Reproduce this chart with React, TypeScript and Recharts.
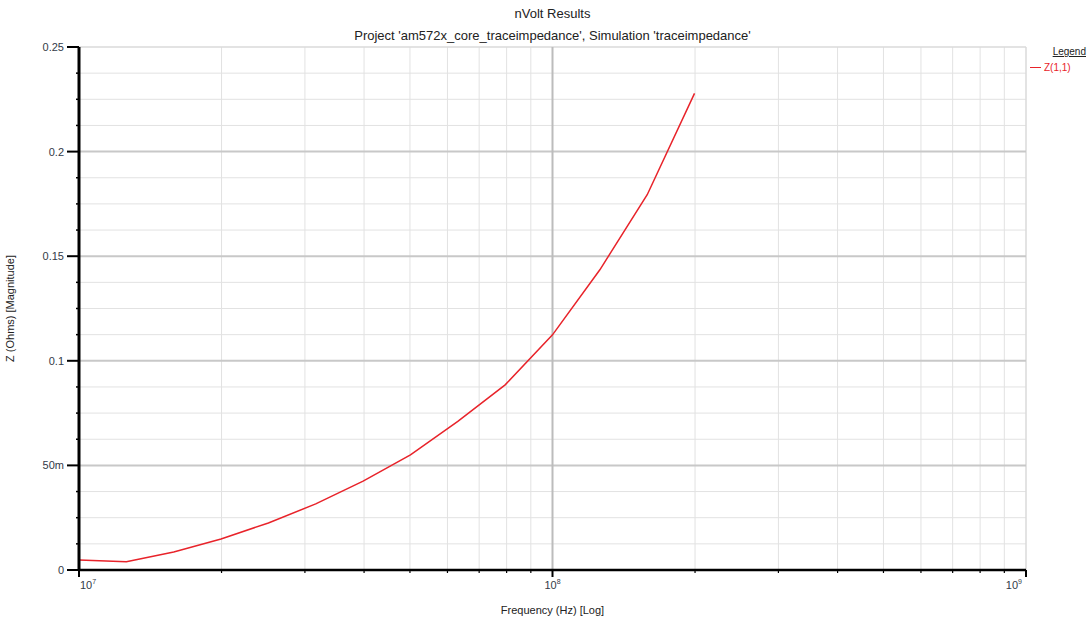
import React from "react";
import { LineChart, Line, XAxis, YAxis, ReferenceLine } from "recharts";

// Z(1,1) magnitude vs frequency, 10 points per decade
const freqs = [1e7, 1.259e7, 1.585e7, 1.995e7, 2.512e7, 3.162e7, 3.981e7, 5.012e7, 6.31e7, 7.943e7, 1e8, 1.259e8, 1.585e8, 1.995e8];
const zMag = [0.0048, 0.004, 0.0086, 0.0148, 0.0225, 0.0316, 0.0425, 0.055, 0.071, 0.0885, 0.1124, 0.1435, 0.1794, 0.2278];

const xMajor = [1e7, 1e8, 1e9];
const xMajorLabels = ["7", "8", "9"];
const xMinor = [2e7, 3e7, 4e7, 5e7, 6e7, 7e7, 8e7, 9e7, 2e8, 3e8, 4e8, 5e8, 6e8, 7e8, 8e8, 9e8];

const yMajor = [0, 0.05, 0.1, 0.15, 0.2, 0.25];
const yMajorLabels = ["0", "50m", "0.1", "0.15", "0.2", "0.25"];
const yMinor = [
  0.0125, 0.025, 0.0375, 0.0625, 0.075, 0.0875, 0.1125, 0.125, 0.1375,
  0.1625, 0.175, 0.1875, 0.2125, 0.225, 0.2375,
];

const data = freqs.map((f, i) => ({ f, z: zMag[i] }));

const FONT = "'Liberation Sans', Arial, sans-serif";
const TICK_COLOR = "#333a48";
const RED = "#e8232a";

function YTick({ x, y, payload }: any) {
  const idx = yMajor.indexOf(payload.value);
  if (idx < 0) {
    return <line x1={x - 3} x2={x} y1={y} y2={y} stroke="#000" strokeWidth={1.5} />;
  }
  return (
    <g>
      <line x1={x - 12} x2={x} y1={y} y2={y} stroke="#000" strokeWidth={2} />
      <text x={x - 15} y={y + 4} textAnchor="end" fontSize={11} fill={TICK_COLOR} fontFamily={FONT}>
        {yMajorLabels[idx]}
      </text>
    </g>
  );
}

function XTick({ x, y, payload }: any) {
  const idx = xMajor.indexOf(payload.value);
  if (idx < 0) {
    return <line x1={x} x2={x} y1={y} y2={y + 3} stroke="#000" strokeWidth={1.2} />;
  }
  const anchor = idx === 0 ? "start" : idx === 2 ? "end" : "middle";
  const dx = idx === 0 ? 1 : idx === 2 ? -4 : 0;
  return (
    <g>
      <line x1={x} x2={x} y1={y} y2={y + 7} stroke="#000" strokeWidth={2} />
      <text x={x + dx} y={y + 19} textAnchor={anchor} fontSize={11} fill={TICK_COLOR} fontFamily={FONT}>
        <tspan>10</tspan>
        <tspan dy={-5} fontSize={7}>{xMajorLabels[idx]}</tspan>
      </text>
    </g>
  );
}

export default function App() {
  return (
    <div style={{ position: "relative", width: 1090, height: 619, background: "#fff", fontFamily: FONT }}>
      <style>{`body{margin:0}`}</style>
      <div style={{ position: "absolute", left: 0, width: 1105, top: 6, textAlign: "center", fontSize: 13, color: "#222" }}>
        nVolt Results
      </div>
      <div style={{ position: "absolute", left: 0, width: 1105, top: 28, textAlign: "center", fontSize: 13, color: "#222" }}>
        Project 'am572x_core_traceimpedance', Simulation 'traceimpedance'
      </div>
      <div style={{ position: "absolute", left: 1030, top: 46, width: 56, fontSize: 10, zIndex: 2 }}>
        <div style={{ textAlign: "right", textDecoration: "underline", color: "#222" }}>Legend</div>
        <div style={{ display: "flex", alignItems: "center", marginTop: 5, color: RED }}>
          <span style={{ display: "inline-block", width: 11, height: 1.5, background: RED, marginRight: 3 }} />
          <span>Z(1,1)</span>
        </div>
      </div>
      <LineChart width={1090} height={619} data={data} margin={{ top: 47, right: 64, bottom: 0, left: 0 }}>
        <XAxis
          dataKey="f"
          type="number"
          scale="log"
          domain={[1e7, 1e9]}
          allowDataOverflow
          ticks={[...xMajor, ...xMinor]}
          interval={0}
          tick={<XTick />}
          tickLine={false}
          tickSize={0}
          tickMargin={0}
          height={49}
          axisLine={{ stroke: "#000", strokeWidth: 2.5 }}
          label={{ value: "Frequency (Hz) [Log]", position: "insideBottom", offset: 5, fontSize: 11, fill: "#222", fontFamily: FONT }}
        />
        <YAxis
          type="number"
          domain={[0, 0.25]}
          allowDataOverflow
          ticks={[...yMajor, ...yMinor]}
          interval={0}
          tick={<YTick />}
          tickLine={false}
          tickSize={0}
          tickMargin={0}
          width={79}
          axisLine={{ stroke: "#000", strokeWidth: 3 }}
          label={{ value: "Z (Ohms) [Magnitude]", angle: -90, position: "insideLeft", offset: 10, fontSize: 11, fill: "#222", fontFamily: FONT, style: { textAnchor: "middle" } }}
        />
        {xMinor.map((v) => (
          <ReferenceLine key={"xm" + v} x={v} stroke="#e2e2e2" strokeWidth={1} />
        ))}
        {yMinor.map((v) => (
          <ReferenceLine key={"ym" + v} y={v} stroke="#e2e2e2" strokeWidth={1} />
        ))}
        <ReferenceLine x={1e9} stroke="#dadada" strokeWidth={1.5} />
        <ReferenceLine y={0.25} stroke="#dadada" strokeWidth={1.5} />
        {yMajor.slice(1, 5).map((v) => (
          <ReferenceLine key={"yM" + v} y={v} stroke="#c8c8c8" strokeWidth={2} />
        ))}
        <ReferenceLine x={1e8} stroke="#bcbcbc" strokeWidth={2} />
        <Line type="linear" dataKey="z" stroke={RED} strokeWidth={1.5} dot={false} isAnimationActive={false} />
      </LineChart>
    </div>
  );
}
